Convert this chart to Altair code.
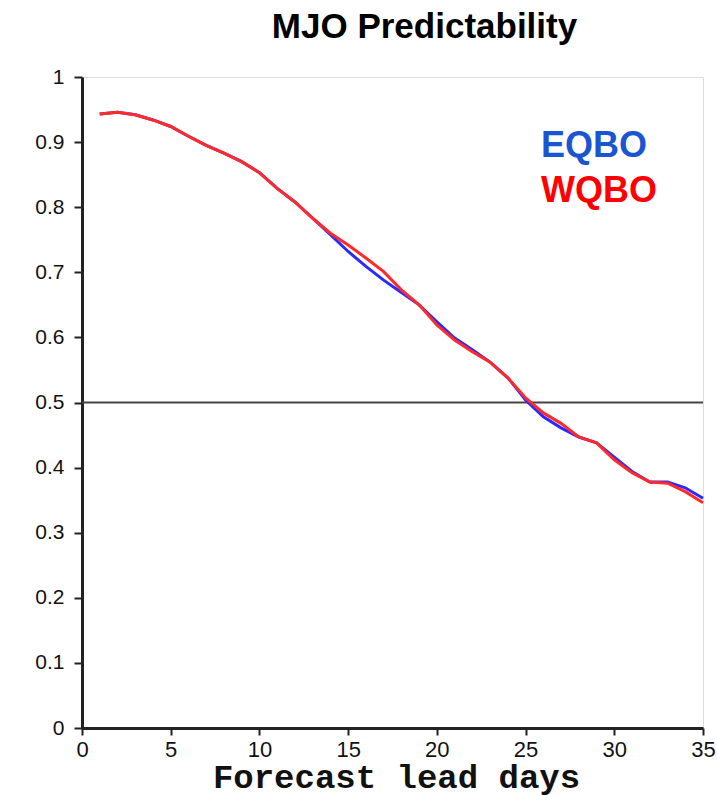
import altair as alt
import pandas as pd

days = list(range(1, 36))
wqbo = [0.943, 0.946, 0.942, 0.934, 0.924, 0.909, 0.895, 0.883, 0.870, 0.853,
        0.829, 0.808, 0.783, 0.760, 0.742, 0.722, 0.701, 0.673, 0.650, 0.619,
        0.596, 0.578, 0.562, 0.538, 0.507, 0.484, 0.468, 0.447, 0.438, 0.412,
        0.392, 0.378, 0.376, 0.363, 0.346]
eqbo = [0.943, 0.946, 0.942, 0.934, 0.924, 0.909, 0.895, 0.883, 0.870, 0.853,
        0.829, 0.808, 0.783, 0.758, 0.732, 0.709, 0.688, 0.669, 0.650, 0.624,
        0.599, 0.581, 0.562, 0.538, 0.504, 0.478, 0.461, 0.447, 0.438, 0.416,
        0.394, 0.378, 0.378, 0.369, 0.353]
series_names = ["EQBO", "WQBO"]
series_colors = ["#2a2aff", "#ff2a2a"]
label_colors = ["#1a56d2", "#ff0000"]
threshold = [0.5]
x_ticks = [0, 5, 10, 15, 20, 25, 30, 35]
y_ticks = [0, 0.1, 0.2, 0.3, 0.4, 0.5, 0.6, 0.7, 0.8, 0.9, 1]

df = pd.concat([
    pd.DataFrame({"day": days, "value": eqbo, "series": "EQBO"}),
    pd.DataFrame({"day": days, "value": wqbo, "series": "WQBO"}),
])

W, H = 621, 651

x_enc = alt.X("day:Q", scale=alt.Scale(domain=[0, 35], nice=False),
              axis=alt.Axis(values=x_ticks, title="Forecast lead days",
                            format="d", labelFontSize=22, labelFont="Liberation Sans",
                            labelColor="#111", tickSize=7, tickWidth=2, tickColor="#222",
                            labelPadding=4, labelFlush=False, labelOverlap=False,
                            domainWidth=3, domainColor="#222",
                            grid=False, titleFont="Liberation Mono", titleFontSize=34,
                            titleFontWeight="bold", titleColor="#111",
                            titleX=314, titleY=59, titleBaseline="alphabetic",
                            titleAnchor="middle", titleAlign="center"))
y_enc = alt.Y("value:Q", scale=alt.Scale(domain=[0, 1], nice=False),
              axis=alt.Axis(values=y_ticks, title=None, labelFontSize=21,
                            labelFont="Liberation Sans", labelColor="#111",
                            labelFontWeight=500, labelFlush=False, labelOverlap=False,
                            tickSize=8, tickWidth=2, tickColor="#222", labelPadding=10,
                            domainWidth=3, domainColor="#222", grid=False,
                            labelExpr="datum.value == 0 ? '0' : datum.value == 1 ? '1' : format(datum.value, '.1f')"))

lines = alt.Chart(df).mark_line(strokeWidth=3).encode(
    x=x_enc, y=y_enc,
    color=alt.Color("series:N", scale=alt.Scale(domain=series_names, range=series_colors),
                    legend=None),
    order=alt.Order("series:N", sort="ascending"),
)

rule = alt.Chart(pd.DataFrame({"value": threshold})).mark_rule(
    color="#444", strokeWidth=2).encode(y=alt.Y("value:Q"))

label_layers = []
for i, (name, col) in enumerate(zip(series_names, label_colors)):
    label_layers.append(
        alt.Chart(pd.DataFrame({"name": [name]})).mark_text(
            align="left", baseline="alphabetic", font="Liberation Sans",
            fontSize=36, fontWeight="bold", color=col).encode(
            x=alt.value(459), y=alt.value(80 + 45 * i), text="name:N")
    )

chart = alt.layer(rule, lines, *label_layers).resolve_scale(y="shared", x="shared").properties(
    width=W, height=H,
    title=alt.TitleParams("MJO Predictability", font="Liberation Sans", fontSize=35,
                          fontWeight="bold", color="#000", anchor="middle",
                          dx=32, offset=21),
    autosize=alt.AutoSizeParams(type="none"),
    padding={"left": 82, "top": 77, "right": 14, "bottom": 67},
).configure_view(stroke="#222", strokeWidth=2).configure(background="white")

chart.save("out.html", embed_options={"renderer": "svg", "actions": False})
